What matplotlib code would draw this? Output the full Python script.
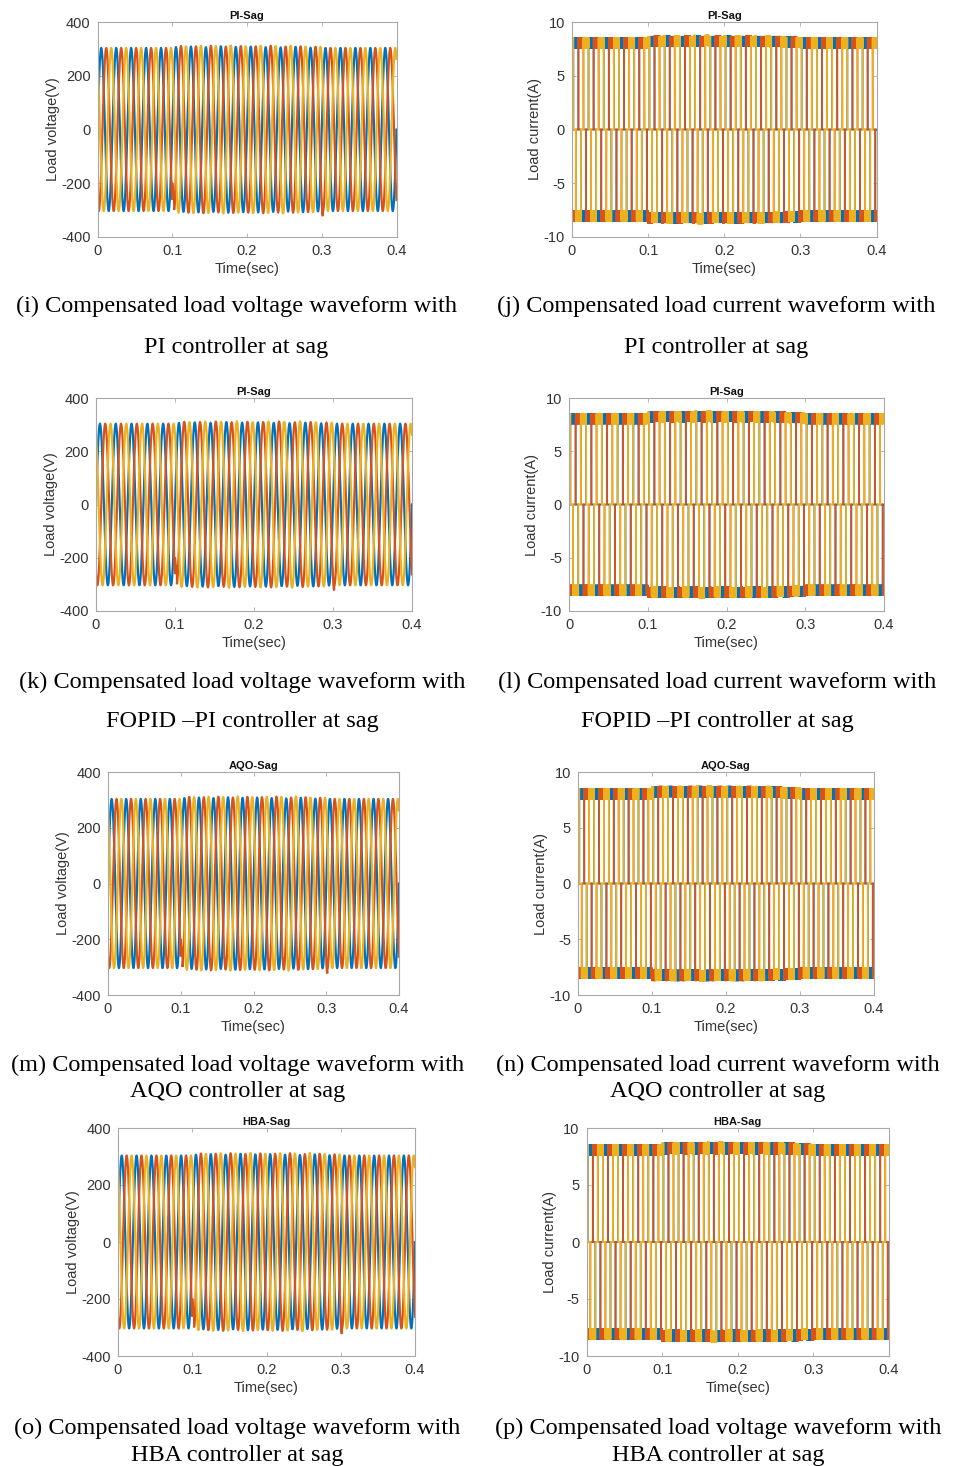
import numpy as np
import matplotlib
matplotlib.use("Agg")
import matplotlib.pyplot as plt

plt.rcParams['axes.unicode_minus'] = False

# ---------------- data ----------------
time_ticks = [0, 0.1, 0.2, 0.3, 0.4]
volt_ticks = [-400, -200, 0, 200, 400]
curr_ticks = [-10, -5, 0, 5, 10]
t_end = 0.4
freq_hz = 50
phase_deg = [0, -120, 120]              # blue, red, yellow phases
phase_colors = ['#0072BD', '#D95319', '#EDB120']

# peak voltage of each 20 ms cycle (20 cycles in 0.4 s)
v_peak_blue = [303, 303, 303, 303, 303, 306, 308, 306, 309, 307,
               308, 306, 305, 307, 304, 303, 303, 303, 303, 303]
v_peak_red = [303, 303, 303, 303, 303, 310, 309, 311, 308, 310,
              309, 311, 308, 309, 307, 303, 303, 303, 303, 303]
v_peak_yellow = [303, 303, 303, 303, 303, 309, 311, 310, 312, 309,
                 311, 310, 312, 308, 307, 303, 303, 303, 303, 303]
# short disturbances at the sag start / end (time, width, offset on red phase)
v_dist_t = [0.1, 0.3]
v_dist_w = [0.0025, 0.0015]
v_dist_dv = [70, -20]

# load-current plateau level of each cycle
i_level_blue = [8.05, 8.05, 8.05, 8.05, 8.05, 8.2, 8.25, 8.2, 8.25, 8.2,
                8.25, 8.2, 8.2, 8.2, 8.15, 8.05, 8.05, 8.05, 8.05, 8.05]
i_level_red = [8.05, 8.05, 8.05, 8.05, 8.05, 8.25, 8.2, 8.25, 8.2, 8.25,
               8.2, 8.25, 8.2, 8.2, 8.15, 8.05, 8.05, 8.05, 8.05, 8.05]
i_level_yellow = [8.05, 8.05, 8.05, 8.05, 8.05, 8.2, 8.25, 8.2, 8.3, 8.2,
                  8.25, 8.2, 8.25, 8.15, 8.1, 8.05, 8.05, 8.05, 8.05, 8.05]
i_ripple_amp = 0.5
i_ripple_hz = 3000
i_initial = 0.0

titles = ['PI-Sag', 'PI-Sag', 'PI-Sag', 'PI-Sag',
          'AQO-Sag', 'AQO-Sag', 'HBA-Sag', 'HBA-Sag']
kinds = ['v', 'i', 'v', 'i', 'v', 'i', 'v', 'i']
caption_line1 = [
    '(i) Compensated load voltage waveform with',
    '(j) Compensated load current waveform with',
    '(k) Compensated load voltage waveform with',
    '(l) Compensated load current waveform with',
    '(m) Compensated load voltage waveform with',
    '(n) Compensated load current waveform with',
    '(o) Compensated load voltage waveform with',
    '(p) Compensated load voltage waveform with',
]
caption_line2 = [
    'PI controller at sag', 'PI controller at sag',
    'FOPID \u2013PI controller at sag', 'FOPID \u2013PI controller at sag',
    'AQO controller at sag', 'AQO controller at sag',
    'HBA controller at sag', 'HBA controller at sag',
]

# ---------------- layout (pixels) ----------------
W, H = 956, 1466
axes_px = [  # left, right, top, bottom
    (97.5, 396.5, 22, 237), (572, 876.5, 22, 237),
    (96, 412, 398, 611), (569, 884, 398, 611),
    (108, 399, 772, 995), (578, 874, 772, 995),
    (118, 415, 1128, 1356), (586.5, 889, 1128, 1356),
]
caption_y = [(306, 348), (306, 348), (682, 722), (682, 722),
             (1065, 1092), (1065, 1092), (1428, 1455), (1428, 1455)]
caption_x = [236, 716, 242, 717, 238, 718, 237, 718]

# ---------------- build waveforms ----------------
t = np.linspace(0, t_end, 20001)
cycle = np.minimum((t * freq_hz).astype(int), len(v_peak_blue) - 1)


def voltage(peaks, ph, disturb):
    v = np.array(peaks)[cycle] * np.sin(2 * np.pi * freq_hz * t + np.deg2rad(ph))
    if disturb:
        for tc, w, dv in zip(v_dist_t, v_dist_w, v_dist_dv):
            m = (t >= tc) & (t < tc + w)
            v[m] += dv
    return v


def current(levels, ph):
    theta = np.mod(np.rad2deg(2 * np.pi * freq_hz * t) + ph, 360)
    s = np.zeros_like(t)
    s[(theta >= 30) & (theta < 150)] = 1
    s[(theta >= 210) & (theta < 330)] = -1
    lvl = np.array(levels)[cycle]
    rip = i_ripple_amp * np.sin(2 * np.pi * i_ripple_hz * t + np.deg2rad(ph))
    i = s * (lvl + rip)
    i[0] = i_initial
    return i


volt_series = [voltage(v_peak_blue, phase_deg[0], False),
               voltage(v_peak_red, phase_deg[1], True),
               voltage(v_peak_yellow, phase_deg[2], False)]
curr_series = [current(i_level_blue, phase_deg[0]),
               current(i_level_red, phase_deg[1]),
               current(i_level_yellow, phase_deg[2])]

# ---------------- draw ----------------
fig = plt.figure(figsize=(W / 100, H / 100), dpi=100)
sans = 'Liberation Sans'
serif = 'Liberation Serif'
tick_col = '#333333'
frame_col = '#a8a8a8'

for k in range(8):
    l, r, tp, b = axes_px[k]
    ax = fig.add_axes([l / W, 1 - b / H, (r - l) / W, (b - tp) / H])
    series = volt_series if kinds[k] == 'v' else curr_series
    lw = 1.6 if kinds[k] == 'v' else 1.3
    for y, c in zip(series, phase_colors):
        ax.plot(t, y, color=c, lw=lw, solid_joinstyle='miter')
    ax.set_xlim(0, t_end)
    ax.set_xticks(time_ticks)
    ax.set_xticklabels(['0', '0.1', '0.2', '0.3', '0.4'])
    if kinds[k] == 'v':
        ax.set_ylim(-400, 400)
        ax.set_yticks(volt_ticks)
        ax.set_ylabel('Load voltage(V)', fontsize=10.5, family=sans,
                      color=tick_col, labelpad=1)
    else:
        ax.set_ylim(-10, 10)
        ax.set_yticks(curr_ticks)
        ax.set_ylabel('Load current(A)', fontsize=10.5, family=sans,
                      color=tick_col, labelpad=1)
    ax.set_xlabel('Time(sec)', fontsize=10.5, family=sans, color=tick_col,
                  labelpad=3)
    ax.set_title(titles[k], fontsize=8, fontweight='bold', family=sans,
                 color='#111111', pad=2.5)
    ax.tick_params(direction='in', length=3, width=0.6, color=frame_col,
                   labelsize=10.5, labelcolor=tick_col, top=True, right=True,
                   pad=5)
    for lab in ax.get_xticklabels() + ax.get_yticklabels():
        lab.set_family(sans)
    for sp in ax.spines.values():
        sp.set_color(frame_col)
        sp.set_linewidth(0.8)

    y1, y2 = caption_y[k]
    fig.text(caption_x[k] / W, 1 - y1 / H, caption_line1[k], ha='center',
             va='center', fontsize=17.5, family=serif, color='black')
    fig.text(caption_x[k] / W, 1 - y2 / H, caption_line2[k], ha='center',
             va='center', fontsize=17.5, family=serif, color='black')

fig.savefig('out.png', dpi=100, facecolor='white')
